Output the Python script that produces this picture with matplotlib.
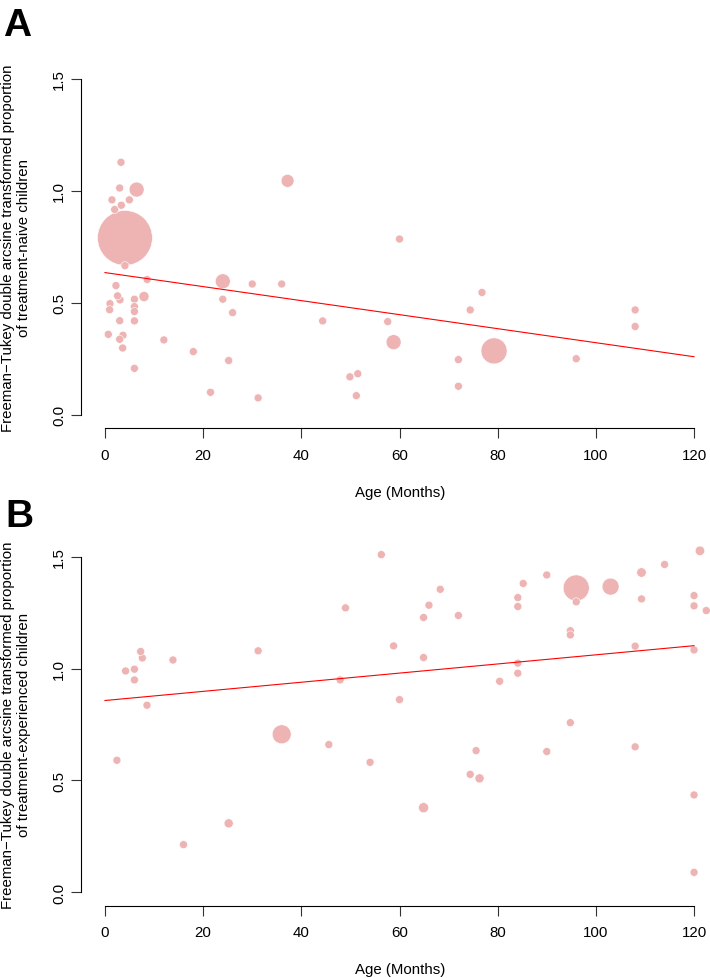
import numpy as np
import matplotlib
matplotlib.use('Agg')
import matplotlib.pyplot as plt

plt.rcParams['font.family'] = ['Liberation Sans', 'DejaVu Sans']

# panel A: treatment-naive children
age_a = [3.26, 3.0, 6.45, 1.43, 3.33, 4.96, 1.97, 37.2, 4.07, 4.07,
         2.24, 8.6, 24.0, 30.0, 36.0, 1.02, 0.95, 2.57, 3.06, 6.0,
         6.0, 6.0, 6.0, 7.95, 3.0, 24.0, 26.0, 44.35, 0.68, 3.67,
         3.0, 3.6, 12.0, 18.0, 25.2, 6.0, 21.5, 31.2, 49.9, 51.5,
         51.2, 60.0, 76.8, 74.4, 57.6, 58.8, 72.0, 72.0, 79.26, 96.0,
         108.0, 108.0]
ft_a = [1.128, 1.013, 1.006, 0.960, 0.936, 0.960, 0.917, 1.045, 0.790, 0.666,
        0.577, 0.604, 0.596, 0.584, 0.584, 0.496, 0.469, 0.531, 0.513, 0.516,
        0.483, 0.461, 0.419, 0.528, 0.420, 0.516, 0.456, 0.419, 0.359, 0.355,
        0.337, 0.298, 0.334, 0.282, 0.242, 0.207, 0.100, 0.075, 0.169, 0.183,
        0.085, 0.785, 0.546, 0.468, 0.416, 0.324, 0.246, 0.127, 0.285, 0.250,
        0.468, 0.394]
wt_a = [1, 1, 3.5, 1, 1, 1, 1, 2.6, 47, 1,
        1, 1, 3.5, 1, 1, 1, 1, 1, 1, 1,
        1, 1, 1, 1.6, 1, 1, 1, 1, 1, 1,
        1, 1, 1, 1, 1, 1, 1, 1, 1, 1,
        1, 1, 1, 1, 1, 3.5, 1, 1, 10.6, 1,
        1, 1]

# panel B: treatment-experienced children
age_b = [4.2, 6.0, 6.0, 7.27, 7.6, 13.85, 8.56, 31.2, 49.0, 47.9,
         36.0, 45.6, 2.44, 25.2, 16.0, 56.3, 68.3, 66.0, 64.9, 72.0,
         58.8, 64.9, 60.0, 84.1, 84.1, 85.2, 90.0, 96.0, 96.0, 103.0,
         109.3, 109.3, 114.0, 121.2, 120.0, 120.0, 122.5, 94.8, 94.8, 108.0,
         120.0, 84.1, 84.1, 80.4, 94.8, 75.6, 90.0, 108.0, 54.0, 74.4,
         76.3, 64.9, 120.0, 120.0]
ft_b = [0.989, 0.997, 0.949, 1.076, 1.047, 1.038, 0.836, 1.079, 1.271, 0.949,
        0.706, 0.660, 0.590, 0.308, 0.213, 1.509, 1.354, 1.283, 1.228, 1.237,
        1.101, 1.049, 0.861, 1.317, 1.277, 1.380, 1.418, 1.360, 1.298, 1.366,
        1.429, 1.311, 1.465, 1.526, 1.326, 1.280, 1.259, 1.169, 1.150, 1.100,
        1.083, 1.024, 0.979, 0.943, 0.758, 0.633, 0.629, 0.650, 0.581, 0.527,
        0.509, 0.378, 0.435, 0.089]
wt_b = [1, 1, 1, 1, 1, 1, 1, 1, 1, 1,
        5.6, 1, 1, 1.3, 1, 1, 1, 1, 1, 1,
        1, 1, 1, 1, 1, 1, 1, 10.6, 1, 4.5,
        1.4, 1, 1, 1.4, 1, 1, 1, 1, 1, 1,
        1, 1, 1, 1, 1, 1, 1, 1, 1, 1,
        1.3, 1.6, 1, 1]

# meta-regression lines
line_x = [0, 120]
line_a = [0.635, 0.259]
line_b = [0.857, 1.102]

xticks = [0, 20, 40, 60, 80, 100, 120]
yticks = [0.0, 0.5, 1.0, 1.5]
ytick_labels = ['0.0', '0.5', '1.0', '1.5']

ylab_a = 'Freeman\u2212Tukey double arcsine transformed proportion\nof treatment-naive children'
ylab_b = 'Freeman\u2212Tukey double arcsine transformed proportion\nof treatment-experienced children'

W, H = 710, 979
fig = plt.figure(figsize=(W / 100, H / 100), dpi=100)

left = 81.4 / W
width = (717.6 - 81.4) / W
axh = (429.1 - 66.6) / H
ax_a = fig.add_axes([left, 1 - 429.1 / H, width, axh])
ax_b = fig.add_axes([left, 1 - 906.7 / H, width, axh])

pink = '#EEB4B4'


def draw(ax, x, y, w, ly):
    d = 8 * np.sqrt(np.array(w))  # diameter in px
    order = np.argsort(-np.array(w))
    ax.scatter(np.array(x)[order], np.array(y)[order], s=(d[order] * 0.72) ** 2,
               c=pink, edgecolors='white', linewidths=0.4, zorder=2)
    ax.plot(line_x, ly, color='red', lw=0.8, zorder=3)
    ax.set_xlim(-4.8, 124.8)
    ax.set_ylim(-0.06, 1.56)
    for s in ['top', 'right']:
        ax.spines[s].set_visible(False)
    ax.spines['left'].set_bounds(0, 1.5)
    ax.spines['bottom'].set_bounds(0, 120)
    for s in ['left', 'bottom']:
        ax.spines[s].set_linewidth(0.8)
    ax.set_xticks(xticks)
    ax.set_yticks(yticks)
    ax.set_yticklabels(ytick_labels, rotation=90, va='center')
    ax.tick_params(axis='both', length=7, width=0.8, labelsize=10.8, color='#333333')
    ax.tick_params(axis='x', pad=7)
    ax.tick_params(axis='y', pad=4)
    ax.patch.set_alpha(0)


draw(ax_a, age_a, ft_a, wt_a, line_a)
draw(ax_b, age_b, ft_b, wt_b, line_b)

fig.text(16 / W, 1 - 247.9 / H, ylab_a, rotation=90, ha='center', va='center',
         fontsize=10.8, multialignment='center')
fig.text(16 / W, 1 - 725.3 / H, ylab_b, rotation=90, ha='center', va='center',
         fontsize=10.8, multialignment='center')
fig.text(400 / W, 1 - 493 / H, 'Age (Months)', ha='center', va='center', fontsize=10.8)
fig.text(400 / W, 1 - 970 / H, 'Age (Months)', ha='center', va='center', fontsize=10.8)

fig.text(3 / W, 1 - 36 / H, 'A', fontsize=28, fontweight='bold', ha='left', va='baseline')
fig.text(5 / W, 1 - 527 / H, 'B', fontsize=28, fontweight='bold', ha='left', va='baseline')

fig.savefig('out.png', dpi=100)
plt.close()
